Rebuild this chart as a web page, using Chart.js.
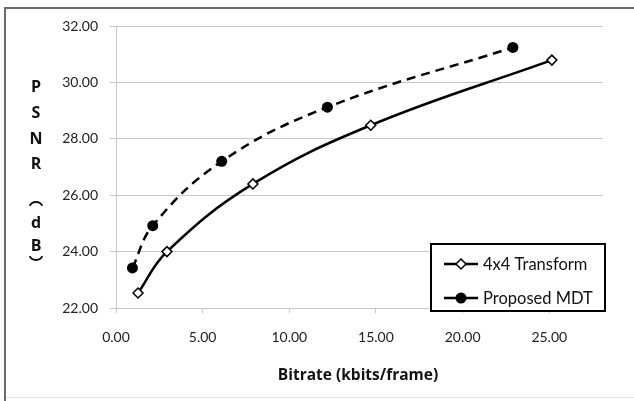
<!DOCTYPE html>
<html>
<head>
<meta charset="utf-8">
<script src="https://cdn.jsdelivr.net/npm/chart.js@4"></script>
<style>
    body { margin: 0; background: #fff; }
    #wrap { width: 634px; height: 401px; position: relative; }
</style>
</head>
<body>
<div id="wrap"><canvas id="chart" width="634" height="401"></canvas></div>
<script>
"use strict";

const seriesNames = ["4x4 Transform", "Proposed MDT"];
const transformX = [1.27, 2.94, 7.9, 14.7, 25.15];
const transformY = [22.53, 24.0, 26.4, 28.48, 30.79];
const mdtX = [0.95, 2.12, 6.1, 12.2, 22.9];
const mdtY = [23.42, 24.92, 27.2, 29.12, 31.24];
const xTicks = [0, 5, 10, 15, 20, 25];
const yTicks = [22, 24, 26, 28, 30, 32];

const tickFont = { family: "Lato", size: 14 };
const ctx = document.getElementById("chart");

function toPoints(xs, ys) {
    return xs.map((x, i) => ({ x: x, y: ys[i] }));
}

// frame, axis titles and the boxed legend
const decorations = {
    id: "decorations",
    beforeDraw(chart) {
        const c = chart.ctx;
        c.save();
        c.fillStyle = "#fff";
        c.fillRect(0, 0, chart.width, chart.height);
        c.strokeStyle = "#6a6a6a";
        c.lineWidth = 2;
        c.beginPath();
        c.moveTo(5, 402);
        c.lineTo(5, 8);
        c.lineTo(640, 8);
        c.stroke();
        c.strokeStyle = "#e4e4e4";
        c.lineWidth = 1;
        c.beginPath();
        c.moveTo(6, 397.5);
        c.lineTo(634, 397.5);
        c.stroke();
        c.restore();
    },
    afterDraw(chart) {
        const c = chart.ctx;
        c.save();
        c.fillStyle = "#111";
        c.textAlign = "center";
        c.textBaseline = "middle";
        c.font = "bold 15.5px 'Open Sans'";
        c.fillText("Bitrate (kbits/frame)", 358, 376);

        const letters = [["P", 87], ["S", 113], ["N", 139], ["R", 164], ["d", 223], ["B", 246]];
        c.font = "bold 16px 'Open Sans'";
        letters.forEach(([t, y]) => c.fillText(t, 36, y));
        // vertical parentheses
        c.lineWidth = 1.8;
        c.strokeStyle = "#111";
        c.beginPath();
        c.ellipse(36, 206, 6, 4, 0, Math.PI, 2 * Math.PI);
        c.stroke();
        c.beginPath();
        c.ellipse(36, 256, 6, 4, 0, 0, Math.PI);
        c.stroke();

        // legend box
        c.fillStyle = "#fff";
        c.fillRect(430, 243, 176, 69);
        c.strokeStyle = "#000";
        c.lineWidth = 2;
        c.strokeRect(431, 244, 174, 67);
        const rows = [264, 298];
        rows.forEach((y, i) => {
            c.strokeStyle = "#000";
            c.lineWidth = 2.5;
            c.beginPath();
            c.moveTo(444, y);
            c.lineTo(478, y);
            c.stroke();
            c.beginPath();
            if (i == 0) {
                c.moveTo(461, y - 5);
                c.lineTo(466, y);
                c.lineTo(461, y + 5);
                c.lineTo(456, y);
                c.closePath();
                c.fillStyle = "#fff";
                c.fill();
                c.lineWidth = 1.5;
                c.stroke();
            } else {
                c.arc(461, y, 5.5, 0, 2 * Math.PI);
                c.fillStyle = "#000";
                c.fill();
            }
            c.fillStyle = "#111";
            c.textAlign = "left";
            c.font = "16.5px Lato";
            c.fillText(seriesNames[i], 483, y + 1);
        });
        c.restore();
    }
};

new Chart(ctx, {
    type: "line",
    data: {
        datasets: [
            {
                label: seriesNames[0],
                data: toPoints(transformX, transformY),
                borderColor: "#000",
                borderWidth: 2.5,
                pointStyle: "rectRot",
                pointRadius: 5,
                pointBackgroundColor: "#fff",
                pointBorderColor: "#000",
                pointBorderWidth: 1.5,
                tension: 0.4
            },
            {
                label: seriesNames[1],
                data: toPoints(mdtX, mdtY),
                borderColor: "#000",
                borderWidth: 2.5,
                borderDash: [9, 6],
                pointStyle: "circle",
                pointRadius: 5.5,
                pointBackgroundColor: "#000",
                pointBorderColor: "#000",
                pointBorderWidth: 0,
                tension: 0.4
            }
        ]
    },
    options: {
        responsive: false,
        animation: false,
        layout: { padding: { left: 0, top: 26, right: 31, bottom: 0 } },
        plugins: { legend: { display: false }, tooltip: { enabled: false } },
        scales: {
            x: {
                type: "linear",
                min: 0,
                max: 28.1,
                afterFit: (s) => { s.height = 93; },
                afterBuildTicks: (s) => { s.ticks = xTicks.map((v) => ({ value: v })); },
                grid: { display: true, drawOnChartArea: false, drawTicks: true, tickLength: 5, color: "#c8c8c8" },
                border: { color: "#c8c8c8" },
                ticks: { font: tickFont, color: "#222", padding: 16, maxRotation: 0, callback: (v) => v.toFixed(2) }
            },
            y: {
                min: 22,
                max: 32,
                afterFit: (s) => { s.width = 116; },
                afterBuildTicks: (s) => { s.ticks = yTicks.map((v) => ({ value: v })); },
                grid: { color: "#c8c8c8", tickLength: 6 },
                border: { color: "#c8c8c8" },
                ticks: { font: tickFont, color: "#222", padding: 12, callback: (v) => v.toFixed(2) }
            }
        }
    },
    plugins: [decorations]
});
</script>
</body>
</html>
